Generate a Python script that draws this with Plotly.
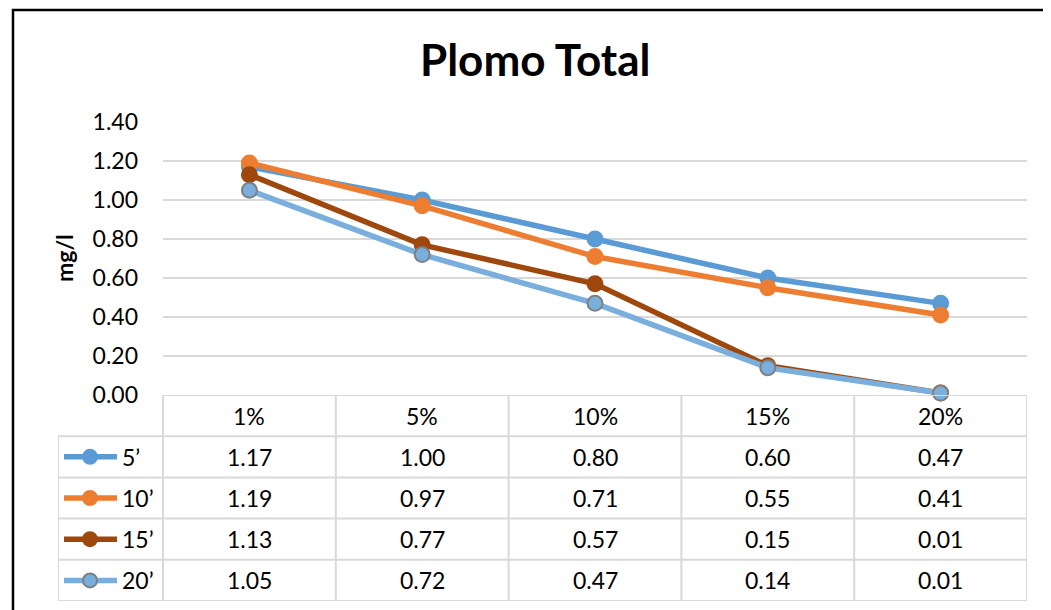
import plotly.graph_objects as go

categories = ["1%", "5%", "10%", "15%", "20%"]
series_names = ["5\u2019", "10\u2019", "15\u2019", "20\u2019"]
v5 = [1.17, 1.00, 0.80, 0.60, 0.47]
v10 = [1.19, 0.97, 0.71, 0.55, 0.41]
v15 = [1.13, 0.77, 0.57, 0.15, 0.01]
v20 = [1.05, 0.72, 0.47, 0.14, 0.01]
y_ticks = [0.0, 0.2, 0.4, 0.6, 0.8, 1.0, 1.2, 1.4]

series_values = [v5, v10, v15, v20]
line_colors = ["#5b9bd5", "#ed7d31", "#9e480e", "#7aaedc"]
marker_fill = ["#5b9bd5", "#ed7d31", "#9e480e", "#7aaedc"]
marker_line = ["#5b9bd5", "#ed7d31", "#9e480e", "#7f7f7f"]

W, H = 1051, 610
OFF = 8  # page body margin in the viewer
FONT = "Lato"
GRID = "#d9d9d9"

# pixel layout (viewer coordinates)
px_left, px_right = 163, 1027
px_leg = 58
px_top_plot, px_zero = 122, 395
px_table_bottom = 601


def fx(px):
    return (px - OFF) / W


def fy(py):
    return 1 - (py - OFF) / H


fig = go.Figure()

for name, vals, lc, mf, ml in zip(series_names, series_values, line_colors, marker_fill, marker_line):
    fig.add_trace(go.Scatter(
        x=categories, y=vals, mode="lines+markers", name=name,
        line=dict(color=lc, width=5.5),
        marker=dict(size=15, color=mf, line=dict(color=ml, width=2)),
        xaxis="x", yaxis="y", showlegend=False, cliponaxis=False,
    ))

col_w = (px_right - px_left) / 5.0
x2_min = -0.5 - (px_left - px_leg) / col_w


def cx(px):
    return (px - px_left) / col_w - 0.5


for i, (name, lc, mf, ml) in enumerate(zip(series_names, line_colors, marker_fill, marker_line)):
    r = i + 1
    fig.add_trace(go.Scatter(
        x=[cx(64), cx(117)], y=[r, r], mode="lines",
        line=dict(color=lc, width=5.5), xaxis="x2", yaxis="y2",
        showlegend=False, hoverinfo="skip", cliponaxis=False,
    ))
    fig.add_trace(go.Scatter(
        x=[cx(90)], y=[r], mode="markers",
        marker=dict(size=14, color=mf, line=dict(color=ml, width=2)),
        xaxis="x2", yaxis="y2", showlegend=False, hoverinfo="skip", cliponaxis=False,
    ))

shapes = []
lw = 2
shapes.append(dict(type="line", xref="x2", yref="y2", x0=-0.5, x1=4.5, y0=-0.5, y1=-0.5,
                   line=dict(color=GRID, width=lw)))
for k in range(1, 6):
    yb = k - 0.5
    shapes.append(dict(type="line", xref="x2", yref="y2", x0=x2_min, x1=4.5, y0=yb, y1=yb,
                       line=dict(color=GRID, width=lw)))
shapes.append(dict(type="line", xref="x2", yref="y2", x0=x2_min, x1=x2_min, y0=0.5, y1=4.5,
                   line=dict(color=GRID, width=lw)))
for c in range(6):
    xb = c - 0.5
    shapes.append(dict(type="line", xref="x2", yref="y2", x0=xb, x1=xb, y0=-0.5, y1=4.5,
                       line=dict(color=GRID, width=lw)))
# outer chart border
shapes.append(dict(type="rect", xref="paper", yref="paper", x0=fx(13), x1=1.05, y0=-0.05, y1=fy(10),
                   line=dict(color="#000000", width=2.5), fillcolor="rgba(0,0,0,0)"))

annotations = []
FS = 23
for c, cat in enumerate(categories):
    annotations.append(dict(x=c, y=0, xref="x2", yref="y2", text=cat, showarrow=False,
                            xanchor="center", yanchor="middle",
                            font=dict(family=FONT, size=FS, color="#000000")))
for r, (name, vals) in enumerate(zip(series_names, series_values), start=1):
    annotations.append(dict(x=cx(120), y=r, xref="x2", yref="y2", text=name, showarrow=False,
                            xanchor="left", yanchor="middle",
                            font=dict(family=FONT, size=FS, color="#000000")))
    for c, v in enumerate(vals):
        annotations.append(dict(x=c, y=r, xref="x2", yref="y2", text=f"{v:.2f}", showarrow=False,
                                xanchor="center", yanchor="middle",
                                font=dict(family=FONT, size=FS, color="#000000")))
annotations.append(dict(x=fx(64), y=fy(258), xref="paper", yref="paper", text="<b>mg/l</b>",
                        textangle=-90, showarrow=False, xanchor="center", yanchor="middle",
                        font=dict(family=FONT, size=23, color="#000000")))
annotations.append(dict(x=fx(535), y=fy(59), xref="paper", yref="paper", text="<b>Plomo Total</b>",
                        showarrow=False, xanchor="center", yanchor="middle",
                        font=dict(family=FONT, size=44, color="#000000")))

fig.update_layout(
    width=W, height=H,
    margin=dict(l=0, r=0, t=0, b=0, pad=0, autoexpand=False),
    paper_bgcolor="white", plot_bgcolor="white",
    showlegend=False,
    xaxis=dict(domain=[fx(px_left), fx(px_right)], type="category", range=[-0.5, 4.5],
               showticklabels=False, showgrid=False, zeroline=False, showline=False,
               anchor="y", fixedrange=True, automargin=False),
    yaxis=dict(domain=[fy(px_zero), fy(px_top_plot)], range=[0, 1.4], tickvals=y_ticks,
               tickformat=".2f", showgrid=True, gridcolor=GRID, gridwidth=2, zeroline=False,
               showline=False, ticks="", ticklabelstandoff=24, automargin=False,
               tickfont=dict(family=FONT, size=FS, color="#000000"), anchor="x"),
    xaxis2=dict(domain=[fx(px_leg), fx(px_right)], range=[x2_min, 4.5], visible=False,
                anchor="y2", automargin=False),
    yaxis2=dict(domain=[fy(px_table_bottom), fy(px_zero)], range=[4.5, -0.5], visible=False,
                anchor="x2", automargin=False),
    shapes=shapes,
    annotations=annotations,
)

fig.write_html("out.html")
